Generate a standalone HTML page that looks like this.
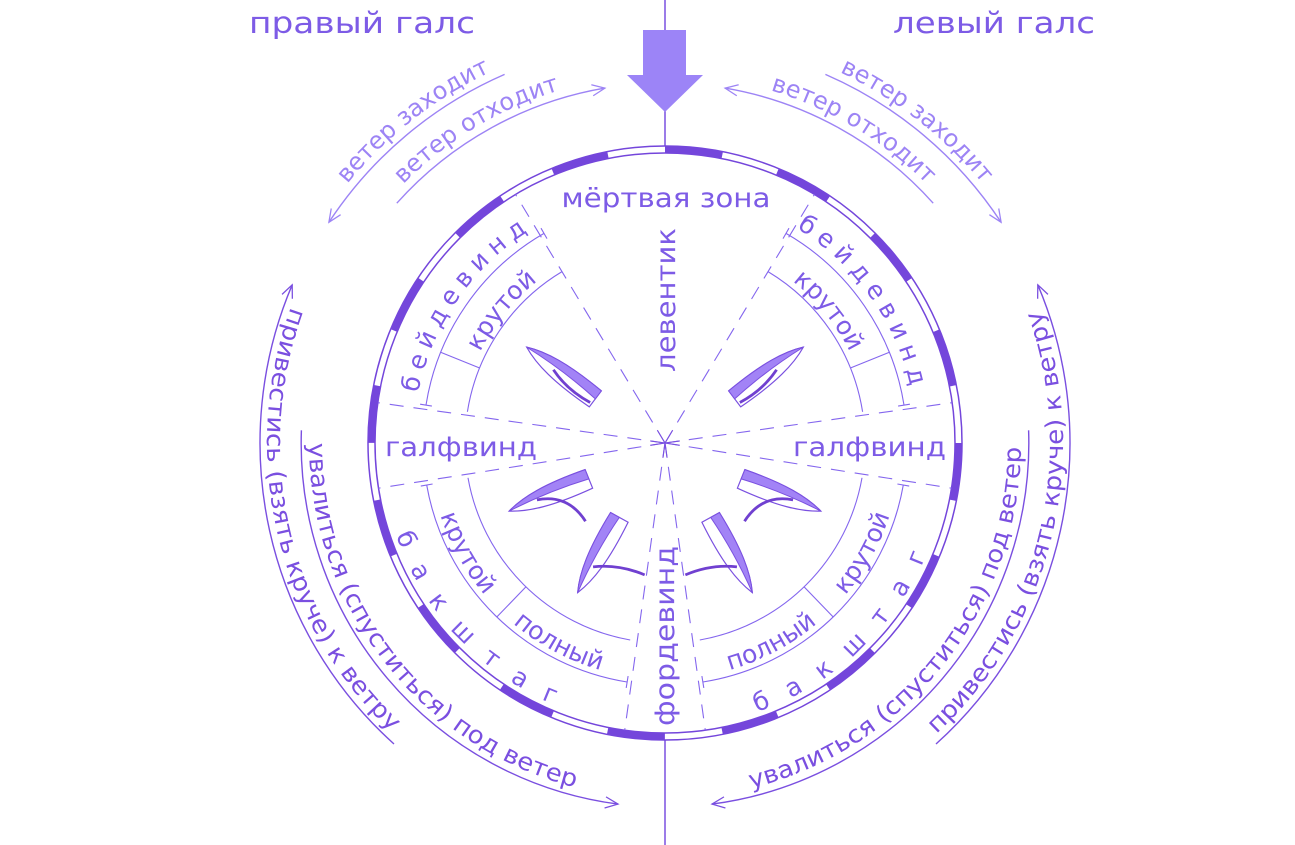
<!DOCTYPE html>
<html><head><meta charset="utf-8">
<style>
html,body{margin:0;padding:0;background:#fff;}
svg{display:block;font-family:"DejaVu Sans","Liberation Sans",sans-serif;}
</style></head>
<body>
<svg width="1295" height="845" viewBox="0 0 1295 845" xmlns="http://www.w3.org/2000/svg">
<defs>
<marker id="ah" viewBox="0 0 20 20" refX="18" refY="10" markerWidth="16" markerHeight="16" markerUnits="userSpaceOnUse" orient="auto">
<path d="M2,3 L18,10 L2,17" fill="none" stroke="#7a4fe0" stroke-width="1.6"/>
</marker>
<marker id="ah2" viewBox="0 0 20 20" refX="18" refY="10" markerWidth="16" markerHeight="16" markerUnits="userSpaceOnUse" orient="auto">
<path d="M2,3 L18,10 L2,17" fill="none" stroke="#9d84f5" stroke-width="1.6"/>
</marker>
<g id="hull">
<path d="M0,-43 C8,-25 12,0 10,43 L-10,43 C-12,0 -8,-25 0,-43 Z" fill="#fff" stroke="#7a50e0" stroke-width="1.2"/>
<path d="M0,-43 C8,-25 12,0 10,43 L0,43 C3,10 2,-20 0,-43 Z" fill="#a283f6" stroke="#7a50e0" stroke-width="1"/>
</g>
</defs>

<line x1="665" y1="0" x2="665" y2="146" stroke="#7a50e0" stroke-width="1.5"/>
<line x1="665" y1="740" x2="665" y2="845" stroke="#7a50e0" stroke-width="1.5"/>
<rect x="643" y="30" width="43" height="46" fill="#9c84f7"/>
<polygon points="627,75 703,75 665,112" fill="#9c84f7"/>

<text x="249" y="33" font-size="29" fill="#7d5be6" textLength="226" lengthAdjust="spacingAndGlyphs">правый галс</text>
<text x="893" y="33" font-size="29" fill="#7d5be6" textLength="202" lengthAdjust="spacingAndGlyphs">левый галс</text>

<g transform="translate(665,443)">
<circle r="297" fill="none" stroke="#7446db" stroke-width="1.5"/>
<circle r="290" fill="none" stroke="#7446db" stroke-width="1.5"/>
<circle r="293.5" fill="none" stroke="#7446db" stroke-width="6.5" stroke-dasharray="57.63 57.63" transform="rotate(-90)"/>

<g stroke="#8466ee" stroke-width="1.1" stroke-dasharray="14 10" fill="none">
<line x1="0" y1="0" x2="-149.4" y2="-248.5"/>
<line x1="0" y1="0" x2="149.4" y2="-248.5"/>
<line x1="0" y1="0" x2="-287.1" y2="-40.3"/>
<line x1="0" y1="0" x2="287.1" y2="-40.3"/>
<line x1="0" y1="0" x2="-286.5" y2="45.2"/>
<line x1="0" y1="0" x2="286.5" y2="45.2"/>
<line x1="0" y1="0" x2="-40.3" y2="287.2"/>
<line x1="0" y1="0" x2="40.3" y2="287.2"/>
</g>
<g stroke="#7a50e0" stroke-width="1.1">
<line x1="0" y1="0" x2="-7.7" y2="-12.9"/><line x1="0" y1="0" x2="7.7" y2="-12.9"/>
<line x1="0" y1="0" x2="-14.8" y2="-2.1"/><line x1="0" y1="0" x2="14.8" y2="-2.1"/>
<line x1="0" y1="0" x2="-14.8" y2="2.3"/><line x1="0" y1="0" x2="14.8" y2="2.3"/>
<line x1="0" y1="0" x2="-2.1" y2="14.8"/><line x1="0" y1="0" x2="2.1" y2="14.8"/>
</g>

<g fill="none" stroke="#8466ee" stroke-width="1.1">
<path d="M-239,-37.9 A242,242 0 0 1 -121,-209.6"/>
<path d="M-233.1,-36.9 L-244.9,-38.8 M-118,-204.4 L-124,-214.8"/>
<path d="M-197.6,-31.2 A200,200 0 0 1 -103,-171.4"/>
<path d="M-185.4,-75 L-224.4,-90.8"/>
<path d="M239,-37.9 A242,242 0 0 0 121,-209.6"/>
<path d="M233.1,-36.9 L244.9,-38.8 M118,-204.4 L124,-214.8"/>
<path d="M197.6,-31.2 A200,200 0 0 0 103,-171.4"/>
<path d="M185.4,-75 L224.4,-90.8"/>
<path d="M-238.3,42 A242,242 0 0 0 -37.9,239"/>
<path d="M-232.4,41 L-244.2,43.1 M-36.9,233.1 L-38.8,244.9"/>
<path d="M-197,34.8 A200,200 0 0 0 -34.8,197"/>
<path d="M-139,143.8 L-168.2,174"/>
<path d="M238.3,42 A242,242 0 0 1 37.9,239"/>
<path d="M232.4,41 L244.2,43.1 M36.9,233.1 L38.8,244.9"/>
<path d="M197,34.8 A200,200 0 0 1 34.8,197"/>
<path d="M139,143.8 L168.2,174"/>
</g>

<path id="p_bd_l" d="M-249.5,-35 A252,252 0 0 1 -118.3,-222.5" fill="none"/>
<path id="p_kr_ul" d="M-202.9,-35.8 A206,206 0 0 1 -77.2,-191" fill="none"/>
<path id="p_bd_r" d="M118.3,-222.5 A252,252 0 0 1 249.5,-35" fill="none"/>
<path id="p_kr_ur" d="M77.2,-191 A206,206 0 0 1 202.9,-35.8" fill="none"/>
<path id="p_bk_l" d="M-279.7,49.3 A284,284 0 0 0 -49.3,279.7" fill="none"/>
<path id="p_kr_ll" d="M-232.4,41 A236,236 0 0 0 -157.9,175.3" fill="none"/>
<path id="p_pl_l" d="M-160.9,172.6 A236,236 0 0 0 -53.1,230" fill="none"/>
<path id="p_bk_r" d="M49.3,279.7 A284,284 0 0 0 279.7,49.3" fill="none"/>
<path id="p_kr_lr" d="M157.9,175.3 A236,236 0 0 0 232.4,41" fill="none"/>
<path id="p_pl_r" d="M53.1,230 A236,236 0 0 0 160.9,172.6" fill="none"/>

<g font-size="25" fill="#7d5be6">
<text letter-spacing="7"><textPath href="#p_bd_l" startOffset="50%" text-anchor="middle">бейдевинд</textPath></text>
<text><textPath href="#p_kr_ul" startOffset="50%" text-anchor="middle">крутой</textPath></text>
<text letter-spacing="7"><textPath href="#p_bd_r" startOffset="50%" text-anchor="middle">бейдевинд</textPath></text>
<text><textPath href="#p_kr_ur" startOffset="50%" text-anchor="middle">крутой</textPath></text>
<text letter-spacing="21"><textPath href="#p_bk_l" startOffset="50%" text-anchor="middle">бакштаг</textPath></text>
<text><textPath href="#p_kr_ll" startOffset="50%" text-anchor="middle">крутой</textPath></text>
<text><textPath href="#p_pl_l" startOffset="50%" text-anchor="middle">полный</textPath></text>
<text letter-spacing="21"><textPath href="#p_bk_r" startOffset="50%" text-anchor="middle">бакштаг</textPath></text>
<text><textPath href="#p_kr_lr" startOffset="50%" text-anchor="middle">крутой</textPath></text>
<text><textPath href="#p_pl_r" startOffset="50%" text-anchor="middle">полный</textPath></text>
</g>

<g fill="none" stroke-width="1.4">
<path d="M-160.4,-368.6 A402,402 0 0 0 -336.1,-220.7" stroke="#9d84f5" marker-end="url(#ah2)"/>
<path d="M-268.2,-239.8 A360,360 0 0 1 -60.1,-354.9" stroke="#9d84f5" marker-end="url(#ah2)"/>
<path d="M160.4,-368.6 A402,402 0 0 1 336.1,-220.7" stroke="#9d84f5" marker-end="url(#ah2)"/>
<path d="M268.2,-239.8 A360,360 0 0 0 60.1,-354.9" stroke="#9d84f5" marker-end="url(#ah2)"/>
<path d="M-271,301 A405,405 0 0 1 -372.8,-158.2" stroke="#7a4fe0" marker-end="url(#ah)"/>
<path d="M-363.6,-12.7 A364,364 0 0 0 -47,361.1" stroke="#7a4fe0" marker-end="url(#ah)"/>
<path d="M271,301 A405,405 0 0 0 372.8,-158.2" stroke="#7a4fe0" marker-end="url(#ah)"/>
<path d="M363.6,-12.7 A364,364 0 0 1 47,361.1" stroke="#7a4fe0" marker-end="url(#ah)"/>
</g>

<path id="p_vz_l" d="M-355.1,-205 A410,410 0 0 1 -113,-394.1" fill="none"/>
<path id="p_vo_l" d="M-301.4,-211.2 A368,368 0 0 1 -44.9,-365.4" fill="none"/>
<path id="p_vz_r" d="M113,-394.1 A410,410 0 0 1 355.1,-205" fill="none"/>
<path id="p_vo_r" d="M44.9,-365.4 A368,368 0 0 1 301.4,-211.2" fill="none"/>
<g font-size="24" fill="#9d84f5">
<text><textPath href="#p_vz_l" startOffset="50%" text-anchor="middle">ветер заходит</textPath></text>
<text><textPath href="#p_vo_l" startOffset="50%" text-anchor="middle">ветер отходит</textPath></text>
<text><textPath href="#p_vz_r" startOffset="50%" text-anchor="middle">ветер заходит</textPath></text>
<text><textPath href="#p_vo_r" startOffset="50%" text-anchor="middle">ветер отходит</textPath></text>
</g>

<path id="p_pv_l" d="M-374.1,-136.1 A398,398 0 0 0 -271.4,290.9" fill="none"/>
<path id="p_uv_l" d="M-356,0 A356,356 0 0 0 -86.1,345.4" fill="none"/>
<path id="p_pv_r" d="M271.4,290.9 A398,398 0 0 0 374.1,-136.1" fill="none"/>
<path id="p_uv_r" d="M86.1,345.4 A356,356 0 0 0 356,0" fill="none"/>
<g font-size="24" fill="#7a4fe0">
<text><textPath href="#p_pv_l" textLength="462" lengthAdjust="spacingAndGlyphs">привестись (взять круче) к ветру</textPath></text>
<text><textPath href="#p_uv_l" textLength="468" lengthAdjust="spacingAndGlyphs">увалиться (спуститься) под ветер</textPath></text>
<text><textPath href="#p_pv_r" textLength="462" lengthAdjust="spacingAndGlyphs">привестись (взять круче) к ветру</textPath></text>
<text><textPath href="#p_uv_r" textLength="468" lengthAdjust="spacingAndGlyphs">увалиться (спуститься) под ветер</textPath></text>
</g>
</g>

<g fill="#7d5be6" font-size="27">
<text x="666" y="207" text-anchor="middle" textLength="209" lengthAdjust="spacingAndGlyphs">мёртвая зона</text>
<text x="385" y="456" textLength="152" lengthAdjust="spacingAndGlyphs">галфвинд</text>
<text x="793" y="456" textLength="153" lengthAdjust="spacingAndGlyphs">галфвинд</text>
<text transform="translate(675,300) rotate(-90)" text-anchor="middle" textLength="144" lengthAdjust="spacingAndGlyphs">левентик</text>
<text transform="translate(674,636) rotate(-90)" text-anchor="middle" textLength="180" lengthAdjust="spacingAndGlyphs">фордевинд</text>
</g>

<g>
<g transform="translate(561,373) rotate(-53)">
<use href="#hull"/>
<path d="M-2,-8 Q-10,15 -6,41" fill="none" stroke="#7040d0" stroke-width="2.8"/>
</g>
<g transform="translate(549,495) rotate(-112)">
<use href="#hull"/>
<path d="M0,-13 Q-6,18 -38,24" fill="none" stroke="#7040d0" stroke-width="2.8"/>
</g>
<g transform="translate(598.5,555) rotate(-151)">
<use href="#hull"/>
<path d="M-1,-13 Q-22,2 -50,5" fill="none" stroke="#7040d0" stroke-width="2.8"/>
</g>
</g>
<g transform="translate(1330,0) scale(-1,1)">
<g transform="translate(561,373) rotate(-53)">
<use href="#hull"/>
<path d="M-2,-8 Q-10,15 -6,41" fill="none" stroke="#7040d0" stroke-width="2.8"/>
</g>
<g transform="translate(549,495) rotate(-112)">
<use href="#hull"/>
<path d="M0,-13 Q-6,18 -38,24" fill="none" stroke="#7040d0" stroke-width="2.8"/>
</g>
<g transform="translate(598.5,555) rotate(-151)">
<use href="#hull"/>
<path d="M-1,-13 Q-22,2 -50,5" fill="none" stroke="#7040d0" stroke-width="2.8"/>
</g>
</g>
</svg>
</body></html>
